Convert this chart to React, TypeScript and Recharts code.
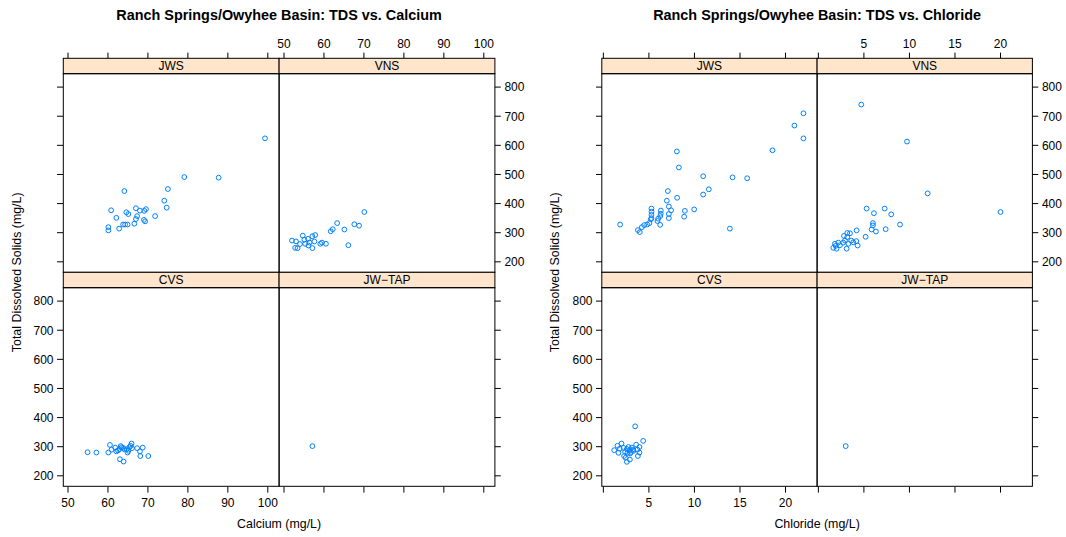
import React from 'react';
import { ScatterChart, Scatter, XAxis, YAxis } from 'recharts';

// panel order as lattice lays it out: top row JWS, VNS; bottom row CVS, JW-TAP
const sites = ['JWS', 'VNS', 'CVS', 'JW\u2212TAP'];

const tdsTicks = [200, 300, 400, 500, 600, 700, 800];
const calciumTicks = [50, 60, 70, 80, 90, 100];
const chlorideTicks = [0, 5, 10, 15, 20];

// [calcium mg/L, TDS mg/L]
const jwsCalcium = [
  [99.3, 624], [79.1, 491], [87.7, 489], [75.0, 450], [64.1, 443], [74.1, 410], [74.7, 386],
  [60.8, 377], [67.0, 384], [68.0, 376], [69.5, 381], [69.1, 375], [64.6, 370], [65.1, 364],
  [67.3, 357], [71.8, 357], [62.1, 351], [67.0, 347], [69.0, 344], [69.3, 339], [66.6, 331],
  [63.8, 328], [64.3, 328], [64.9, 328], [62.8, 314], [60.1, 319], [60.1, 308],
];
const vnsCalcium = [
  [70.1, 371], [63.3, 333], [67.6, 329], [68.8, 324], [65.1, 311], [62.2, 312], [61.7, 305],
  [66.1, 257], [52.0, 273], [53.0, 270], [52.8, 248], [53.4, 247], [54.7, 290], [55.1, 276],
  [56.0, 279], [57.1, 288], [57.8, 292], [56.4, 266], [54.0, 261], [55.3, 262], [56.1, 256],
  [57.1, 247], [57.6, 270], [59.1, 262], [59.5, 266], [60.5, 262],
];
const cvsCalcium = [
  [54.9, 281], [57.1, 280], [60.1, 280], [60.5, 306], [60.9, 290], [61.8, 297], [62.1, 284],
  [62.5, 287], [62.8, 291], [63.2, 302], [63.4, 298], [63.8, 296], [64.1, 291], [63.0, 257],
  [63.9, 249], [64.7, 291], [64.9, 280], [65.1, 286], [65.4, 299], [65.7, 303], [65.9, 311],
  [66.0, 295], [67.3, 295], [68.0, 284], [68.1, 268], [68.7, 297], [70.1, 268],
];
const tapCalcium = [[57.1, 302]];

// [chloride mg/L, TDS mg/L]
const jwsChloride = [
  [21.97, 710], [20.98, 668], [21.97, 624], [18.57, 583], [8.07, 579], [8.29, 524], [10.96, 494],
  [14.18, 490], [15.79, 487], [11.58, 449], [10.96, 431], [7.08, 443], [8.1, 420], [6.97, 410],
  [7.19, 390], [7.44, 377], [7.19, 364], [7.19, 350], [8.95, 375], [8.87, 355], [9.97, 380],
  [13.89, 314], [1.84, 328], [3.79, 309], [4.0, 302], [4.23, 319], [4.48, 326], [4.81, 328],
  [5.06, 333], [5.21, 346], [5.28, 383], [5.28, 372], [5.28, 361], [5.28, 350], [6.02, 348],
  [6.24, 357], [6.24, 327], [6.31, 376], [5.94, 340], [6.3, 365],
];
const vnsChloride = [
  [4.71, 740], [9.73, 613], [12.0, 435], [20.0, 371], [5.3, 383], [6.1, 367], [7.28, 383],
  [8.0, 363], [5.99, 333], [5.99, 325], [8.96, 328], [5.85, 311], [6.32, 304], [7.39, 312],
  [4.2, 308], [5.19, 286], [3.17, 299], [3.47, 298], [2.81, 289], [3.17, 285], [3.61, 273],
  [4.16, 271], [4.31, 256], [2.19, 266], [1.82, 262], [1.64, 248], [2.0, 245], [3.1, 245],
  [2.73, 266], [3.83, 267], [2.37, 257], [2.92, 273], [3.3, 262], [1.9, 255],
];
const cvsChloride = [
  [3.49, 370], [4.37, 320], [1.19, 288], [1.55, 303], [1.66, 279], [1.99, 311], [2.28, 268],
  [2.58, 248], [2.91, 256], [3.6, 307], [3.79, 268], [3.96, 280], [3.74, 290], [3.96, 299],
  [2.21, 296], [2.58, 292], [2.87, 288], [3.02, 282], [3.24, 290], [2.39, 282], [2.76, 299],
  [3.13, 297], [2.65, 279], [2.94, 277], [2.45, 262], [3.3, 286], [1.8, 293],
];
const tapChloride = [[3.0, 302]];

const FONT = '"Liberation Sans", Arial, Helvetica, sans-serif';
const SYMBOL = '#0080ff';
const STRIP = '#ffe5cc';

const ROW_TOP = 58.3;
const STRIP_H = 15.4;
const BODY_H = 198.6;
const Y_DOMAIN = [163, 845];

// chart margins around each panel body
const ML = 50;
const MT = 40;

const toPoints = (arr: number[][]) => arr.map(([x, y]) => ({ x, y }));

const dot = (p: any) => (
  <circle cx={p.cx} cy={p.cy} r={2.4} fill="none" stroke={SYMBOL} strokeWidth={1} />
);

type PanelProps = {
  left: number;
  width: number;
  row: number;
  col: number;
  xDomain: number[];
  xTicks: number[];
  data: number[][];
};

const Panel = ({ left, width, row, col, xDomain, xTicks, data }: PanelProps) => {
  const bodyTop = ROW_TOP + row * (STRIP_H + BODY_H) + STRIP_H;
  const labels = row !== col;

  const xTick = (p: any) => {
    const x = p.x;
    const v = p.payload.value;
    const txt = labels && v !== 0 ? String(v) : '';
    if (row === 0) {
      const base = MT - STRIP_H;
      return (
        <g>
          <line x1={x} x2={x} y1={base} y2={base - 6} stroke="#000" />
          <text x={x} y={base - 10.7} textAnchor="middle" fontSize={12} fontFamily={FONT} fill="#000">{txt}</text>
        </g>
      );
    }
    const base = MT + BODY_H;
    return (
      <g>
        <line x1={x} x2={x} y1={base} y2={base + 6} stroke="#000" />
        <text x={x} y={base + 20.3} textAnchor="middle" fontSize={12} fontFamily={FONT} fill="#000">{txt}</text>
      </g>
    );
  };

  const yTick = (p: any) => {
    const y = p.y;
    const txt = labels ? String(p.payload.value) : '';
    if (col === 0) {
      return (
        <g>
          <line x1={ML} x2={ML - 6} y1={y} y2={y} stroke="#000" />
          <text x={ML - 9.5} y={y + 4.3} textAnchor="end" fontSize={12} fontFamily={FONT} fill="#000">{txt}</text>
        </g>
      );
    }
    const r = ML + width;
    return (
      <g>
        <line x1={r} x2={r + 6} y1={y} y2={y} stroke="#000" />
        <text x={r + 9.6} y={y + 4.3} textAnchor="start" fontSize={12} fontFamily={FONT} fill="#000">{txt}</text>
      </g>
    );
  };

  return (
    <div style={{ position: 'absolute', left: left - ML, top: bodyTop - MT }}>
      <ScatterChart
        width={width + 2 * ML}
        height={BODY_H + 2 * MT}
        margin={{
          top: row === 0 ? 10 : MT,
          bottom: row === 0 ? MT : 10,
          left: col === 0 ? 10 : ML,
          right: col === 0 ? ML : 10,
        }}
      >
        <XAxis
          type="number"
          dataKey="x"
          orientation={row === 0 ? 'top' : 'bottom'}
          height={30}
          domain={xDomain}
          ticks={xTicks}
          interval={0}
          allowDataOverflow
          axisLine={false}
          tickLine={false}
          tick={xTick}
        />
        <YAxis
          type="number"
          dataKey="y"
          orientation={col === 0 ? 'left' : 'right'}
          width={40}
          domain={Y_DOMAIN}
          ticks={tdsTicks}
          interval={0}
          allowDataOverflow
          axisLine={false}
          tickLine={false}
          tick={yTick}
        />
        <Scatter data={toPoints(data)} shape={dot} isAnimationActive={false} />
      </ScatterChart>
    </div>
  );
};

type FigureProps = {
  x0: number;
  colW: number;
  title: string;
  xLabel: string;
  yLabelX: number;
  xDomain: number[];
  xTicks: number[];
  panels: number[][][];
};

const Figure = ({ x0, colW, title, xLabel, yLabelX, xDomain, xTicks, panels }: FigureProps) => {
  const cx = x0 + colW;
  const midY = ROW_TOP + STRIP_H + BODY_H;
  return (
    <>
      {panels.map((d, i) => (
        <Panel
          key={i}
          left={x0 + (i % 2) * colW}
          width={colW}
          row={Math.floor(i / 2)}
          col={i % 2}
          xDomain={xDomain}
          xTicks={xTicks}
          data={d}
        />
      ))}
      <svg
        width={1066}
        height={537}
        style={{ position: 'absolute', left: 0, top: 0, pointerEvents: 'none' }}
      >
        {sites.map((s, i) => {
          const r = Math.floor(i / 2);
          const c = i % 2;
          const left = x0 + c * colW;
          const top = ROW_TOP + r * (STRIP_H + BODY_H);
          return (
            <g key={s}>
              <rect x={left} y={top} width={colW} height={STRIP_H} fill={STRIP} stroke="#000" strokeWidth={1} />
              <text x={left + colW / 2} y={top + STRIP_H / 2 + 4.3} textAnchor="middle" fontSize={12} fontFamily={FONT} fill="#000">
                {s}
              </text>
              <rect x={left} y={top + STRIP_H} width={colW} height={BODY_H} fill="none" stroke="#000" strokeWidth={1} />
            </g>
          );
        })}
        <text x={cx} y={20} textAnchor="middle" fontSize={14.4} fontWeight="bold" fontFamily={FONT} fill="#000">
          {title}
        </text>
        <text x={cx} y={527.5} textAnchor="middle" fontSize={12.4} fontFamily={FONT} fill="#000">
          {xLabel}
        </text>
        <text
          x={yLabelX}
          y={midY}
          textAnchor="middle"
          fontSize={12.4}
          fontFamily={FONT}
          fill="#000"
          transform={`rotate(-90 ${yLabelX} ${midY})`}
        >
          Total Dissolved Solids (mg/L)
        </text>
      </svg>
    </>
  );
};

export default function App() {
  return (
    <div style={{ position: 'absolute', left: 0, top: 0, width: 1066, height: 537, background: '#fff' }}>
      <Figure
        x0={63.3}
        colW={215.8}
        title="Ranch Springs/Owyhee Basin: TDS vs. Calcium"
        xLabel="Calcium (mg/L)"
        yLabelX={21.5}
        xDomain={[48.75, 102.75]}
        xTicks={calciumTicks}
        panels={[jwsCalcium, vnsCalcium, cvsCalcium, tapCalcium]}
      />
      <Figure
        x0={601.8}
        colW={215.3}
        title="Ranch Springs/Owyhee Basin: TDS vs. Chloride"
        xLabel="Chloride (mg/L)"
        yLabelX={559.5}
        xDomain={[-0.15, 23.49]}
        xTicks={chlorideTicks}
        panels={[jwsChloride, vnsChloride, cvsChloride, tapChloride]}
      />
    </div>
  );
}
